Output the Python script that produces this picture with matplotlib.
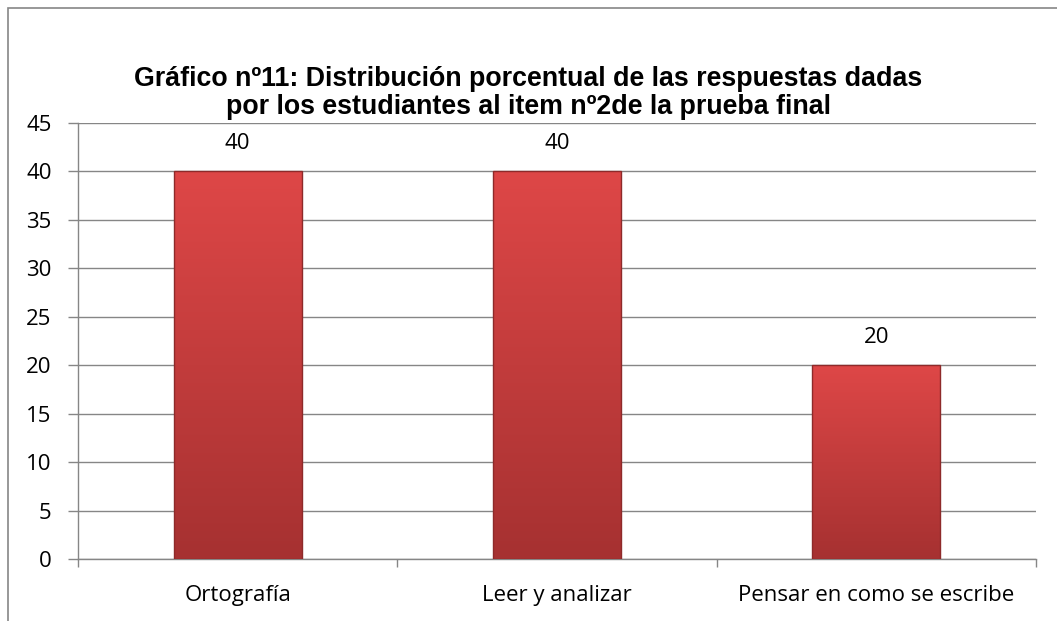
import numpy as np
import matplotlib
matplotlib.use("Agg")
import matplotlib.pyplot as plt
from matplotlib.colors import LinearSegmentedColormap
from matplotlib.patches import Rectangle

categories = ["Ortografía", "Leer y analizar", "Pensar en como se escribe"]
values = [40, 40, 20]
yticks = [0, 5, 10, 15, 20, 25, 30, 35, 40, 45]

W, H = 1057, 621
fig = plt.figure(figsize=(W / 100, H / 100), dpi=100)

# outer chart frame (right and bottom edges fall outside the picture)
fig.patches.append(Rectangle((8 / W, -0.05), 1.1, 1 - 8 / H + 0.05, transform=fig.transFigure,
                             fill=False, edgecolor="#868686", linewidth=1.2))

ax = fig.add_axes([78 / W, 1 - 559 / H, (1036 - 78) / W, (559 - 123) / H])

x = np.arange(len(categories))
bars = ax.bar(x, values, width=0.4, color="#C83C3C", zorder=2)

cmap = LinearSegmentedColormap.from_list("redgrad", ["#A63131", "#DE4747"])
grad = np.linspace(0, 1, 256).reshape(-1, 1)
for b in bars:
    x0, w, h = b.get_x(), b.get_width(), b.get_height()
    im = ax.imshow(grad, extent=[x0, x0 + w, 0, h], origin="lower", cmap=cmap,
                   aspect="auto", zorder=3)
    im.set_clip_path(b)
    ax.add_patch(Rectangle((x0, 0), w, h, fill=False, edgecolor="#8E2A2A",
                           linewidth=1.0, zorder=4))
    ax.text(x0 + w / 2, h + 2.9, f"{h:g}", ha="center", va="center",
            fontsize=16, family="Open Sans", color="#000000")

ax.set_xlim(-0.5, len(categories) - 0.5)
ax.set_ylim(0, 45)
ax.set_yticks(yticks)
ax.set_yticklabels([str(t) for t in yticks], fontsize=16, family="Open Sans")
ax.yaxis.grid(True, color="#868686", linewidth=1.0, zorder=0)
ax.set_axisbelow(True)

ax.set_xticks(x)
ax.set_xticklabels(categories, fontsize=16, family="Open Sans")
ax.tick_params(axis="x", length=0, pad=19)
ax.set_xticks(np.arange(len(categories) + 1) - 0.5, minor=True)
ax.tick_params(axis="x", which="minor", length=6, color="#868686", width=1)
ax.tick_params(axis="y", length=7, color="#868686", width=1, pad=12)

for s in ["top", "right"]:
    ax.spines[s].set_visible(False)
for s in ["left", "bottom"]:
    ax.spines[s].set_color("#868686")
    ax.spines[s].set_linewidth(1.0)

fig.text(528 / W, 1 - 93 / H,
         "Gráfico nº11: Distribución porcentual de las respuestas dadas\n"
         "por los estudiantes al item nº2de la prueba final",
         ha="center", va="center", fontsize=19.3, fontweight="bold",
         family="Liberation Sans", linespacing=1.08)

fig.savefig("out.png", dpi=100)
